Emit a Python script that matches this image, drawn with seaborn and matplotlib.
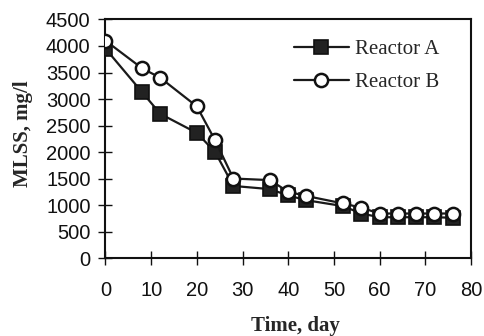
import matplotlib
matplotlib.use("Agg")
import matplotlib.pyplot as plt
import seaborn as sns
import pandas as pd

days = [0, 8, 12, 20, 24, 28, 36, 40, 44, 52, 56, 60, 64, 68, 72, 76]
reactor_a = [3950, 3130, 2720, 2360, 2000, 1360, 1300, 1180, 1090, 980, 840, 770, 770, 770, 770, 760]
reactor_b = [4100, 3580, 3400, 2860, 2220, 1500, 1470, 1250, 1170, 1030, 950, 840, 840, 840, 840, 840]
x_ticks = [0, 10, 20, 30, 40, 50, 60, 70, 80]
y_ticks = [0, 500, 1000, 1500, 2000, 2500, 3000, 3500, 4000, 4500]

sns.set_style("ticks")
plt.rcParams['font.family'] = ['Liberation Sans', 'DejaVu Sans']

fig = plt.figure(figsize=(4.85, 3.36), dpi=100)
ax = fig.add_axes([0.2175, 0.232, 0.7535, 0.710])

df_a = pd.DataFrame({"day": days, "mlss": reactor_a})
df_b = pd.DataFrame({"day": days, "mlss": reactor_b})

sns.lineplot(data=df_a, x="day", y="mlss", ax=ax, color="#1a1a1a", lw=1.6,
             marker="s", markersize=10.5, markerfacecolor="#222222",
             markeredgecolor="#111111", markeredgewidth=1.2, label="Reactor A", zorder=3)
sns.lineplot(data=df_b, x="day", y="mlss", ax=ax, color="#1a1a1a", lw=1.6,
             marker="o", markersize=9.5, markerfacecolor="white",
             markeredgecolor="#111111", markeredgewidth=1.8, label="Reactor B", zorder=4)

ax.set_xlim(0, 80)
ax.set_ylim(0, 4500)
ax.set_xticks(x_ticks)
ax.set_yticks(y_ticks)
ax.tick_params(direction="inout", length=9.5, width=1.0, labelsize=14.5, colors="#111111", pad=6)
ax.tick_params(axis="x", pad=12)
for s in ax.spines.values():
    s.set_linewidth(1.5)
    s.set_color("#111111")
    s.set_visible(True)

ax.set_xlabel("Time, day", family=["Liberation Serif"], fontweight="bold", fontsize=15)
ax.set_ylabel("MLSS, mg/l", family=["Liberation Serif"], fontweight="bold", fontsize=15)
ax.xaxis.set_label_coords(0.521, -0.245)
ax.yaxis.set_label_coords(-0.198, 0.52)

leg = ax.legend(loc="upper left", bbox_to_anchor=(0.515, 0.915), frameon=False,
                prop={"family": "Liberation Serif", "size": 15},
                handlelength=2.65, handletextpad=0.27, labelspacing=0.65,
                borderaxespad=0, borderpad=0)

fig.savefig("out.png", dpi=100, facecolor="white")
